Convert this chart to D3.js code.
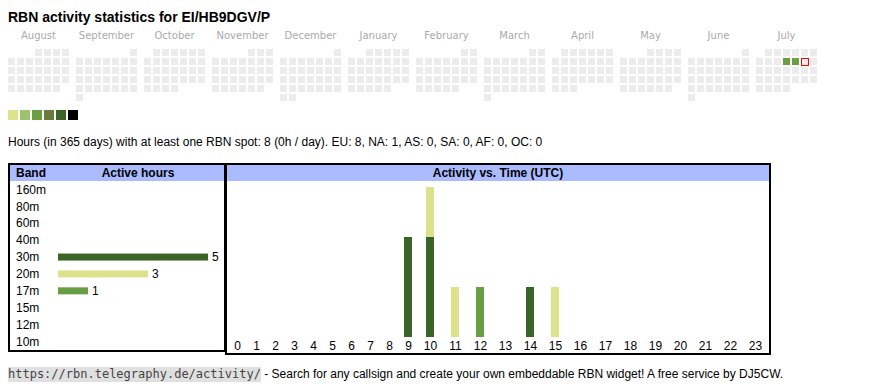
<!DOCTYPE html>
<html>
<head>
<meta charset="utf-8">
<script src="https://cdn.jsdelivr.net/npm/d3@7"></script>
<style>
  html, body { margin: 0; padding: 0; background: #fff; }
  svg { display: block; }
</style>
</head>
<body>
<svg id="chart" width="870" height="390"></svg>
<script>
// ---------------- DATA ----------------
const title = "RBN activity statistics for EI/HB9DGV/P";
const monthNames = ["August", "September", "October", "November", "December", "January",
                    "February", "March", "April", "May", "June", "July"];
const calendarStart = "2024-08-01";
const calendarEnd = "2025-08-01";
const activeDays = ["2025-07-10", "2025-07-11"];
const activeDayLevels = [2, 2];
const today = "2025-07-12";
const legendColors = ["#dbe38b", "#9fc36a", "#6a9e45", "#6a7b3b", "#3b6428", "#000000"];

const summaryText = "Hours (in 365 days) with at least one RBN spot: 8 (0h / day). EU: 8, NA: 1, AS: 0, SA: 0, AF: 0, OC: 0";

const bands = ["160m", "80m", "60m", "40m", "30m", "20m", "17m", "15m", "12m", "10m"];
const bandHours = [0, 0, 0, 0, 5, 3, 1, 0, 0, 0];
const bandColors = ["#7f3f98", "#2b4ea8", "#4aa3c8", "#c04040", "#3b6428", "#dbe28b", "#6a9e45", "#e0a030", "#a05a2c", "#d04080"];

const hours = d3.range(24);
// active hours per band at each UTC hour
const hourly30m = [0,0,0,0,0,0,0,0,0,2,2,0,0,0,1,0,0,0,0,0,0,0,0,0];
const hourly20m = [0,0,0,0,0,0,0,0,0,0,1,1,0,0,0,1,0,0,0,0,0,0,0,0];
const hourly17m = [0,0,0,0,0,0,0,0,0,0,0,0,1,0,0,0,0,0,0,0,0,0,0,0];

const footerLink = "https://rbn.telegraphy.de/activity/";
const footerText = " - Search for any callsign and create your own embeddable RBN widget! A free service by DJ5CW.";

// ---------------- DRAW ----------------
const svg = d3.select("#chart");
const sans = "'Liberation Sans', Arial, sans-serif";

svg.append("text")
  .attr("x", 8).attr("y", 22)
  .attr("font-family", sans).attr("font-weight", "bold").attr("font-size", 14)
  .attr("fill", "#000")
  .text(title);

// ---- calendar ----
const parse = d3.utcParse("%Y-%m-%d");
const days = d3.utcDays(parse(calendarStart), parse(calendarEnd));
const monthIndex = d => (d.getUTCFullYear() - 2024) * 12 + d.getUTCMonth() - 7;
const xMonth = d3.scaleLinear().domain([0, 1]).range([8, 76]);
const xCol = d3.scaleLinear().domain([0, 1]).range([0, 9]);
const yRow = d3.scaleLinear().domain([0, 1]).range([49, 58]);
const weekday = d => (d.getUTCDay() + 6) % 7;
const weekRow = d => {
  const first = d3.utcMonth.floor(d);
  return Math.floor((d.getUTCDate() - 1 + weekday(first)) / 7);
};
const activeMap = new Map(activeDays.map((s, i) => [s, activeDayLevels[i]]));
const fmt = d3.utcFormat("%Y-%m-%d");

svg.append("g").selectAll("text")
  .data(monthNames)
  .join("text")
  .attr("x", (m, i) => xMonth(i) + 30.5)
  .attr("y", 38.5)
  .attr("text-anchor", "middle")
  .attr("font-family", "'DejaVu Sans', Verdana, sans-serif")
  .attr("font-size", 10)
  .attr("fill", "#aaa")
  .text(m => m);

svg.append("g").selectAll("rect")
  .data(days)
  .join("rect")
  .attr("x", d => xMonth(monthIndex(d)) + xCol(weekday(d)) + (fmt(d) === today ? 0.5 : 0))
  .attr("y", d => yRow(weekRow(d)) + (fmt(d) === today ? 0.5 : 0))
  .attr("width", 7).attr("height", 7)
  .attr("fill", d => activeMap.has(fmt(d)) ? legendColors[activeMap.get(fmt(d))] : "#ececec")
  .attr("stroke", d => fmt(d) === today ? "#ff0000" : "none")
  .attr("stroke-width", 1);

// legend
const xLegend = d3.scaleLinear().domain([0, 1]).range([8, 20]);
svg.append("g").selectAll("rect")
  .data(legendColors)
  .join("rect")
  .attr("x", (c, i) => xLegend(i)).attr("y", 110)
  .attr("width", 10).attr("height", 10)
  .attr("fill", c => c);

svg.append("text")
  .attr("x", 8).attr("y", 146)
  .attr("font-family", sans).attr("font-size", 12)
  .attr("fill", "#000")
  .text(summaryText);

// ---- left table: bands ----
const left = svg.append("g");
left.append("rect").attr("x", 9).attr("y", 164).attr("width", 216).attr("height", 187)
  .attr("fill", "#fff").attr("stroke", "#000").attr("stroke-width", 2);
left.append("rect").attr("x", 10).attr("y", 165).attr("width", 214).attr("height", 16)
  .attr("fill", "#aabbff");
left.append("text").attr("x", 16).attr("y", 177).attr("font-family", sans)
  .attr("font-weight", "bold").attr("font-size", 12).text("Band");
left.append("text").attr("x", 138).attr("y", 177).attr("text-anchor", "middle").attr("font-family", sans)
  .attr("font-weight", "bold").attr("font-size", 12).text("Active hours");

const yBand = d3.scaleBand().domain(bands).range([181, 350]);
const xHours = d3.scaleLinear().domain([0, 5]).range([58, 208]);

left.append("g").selectAll("text")
  .data(bands)
  .join("text")
  .attr("x", 16)
  .attr("y", b => yBand(b) + yBand.bandwidth() / 2)
  .attr("dy", "0.35em")
  .attr("font-family", sans).attr("font-size", 12)
  .text(b => b);

const bandRows = bands.map((b, i) => ({ band: b, hours: bandHours[i], color: bandColors[i] }))
  .filter(d => d.hours > 0);

left.append("g").selectAll("rect")
  .data(bandRows)
  .join("rect")
  .attr("x", xHours(0))
  .attr("y", d => yBand(d.band) + yBand.bandwidth() / 2 - 3.5)
  .attr("width", d => xHours(d.hours) - xHours(0))
  .attr("height", 7)
  .attr("fill", d => d.color);

left.append("g").selectAll("text")
  .data(bandRows)
  .join("text")
  .attr("x", d => xHours(d.hours) + 4)
  .attr("y", d => yBand(d.band) + yBand.bandwidth() / 2)
  .attr("dy", "0.35em")
  .attr("font-family", sans).attr("font-size", 12)
  .text(d => d.hours);

// ---- right table: activity vs time ----
const right = svg.append("g");
right.append("rect").attr("x", 226).attr("y", 164).attr("width", 544).attr("height", 190)
  .attr("fill", "#fff").attr("stroke", "#000").attr("stroke-width", 2);
right.append("rect").attr("x", 227).attr("y", 165).attr("width", 542).attr("height", 16)
  .attr("fill", "#aabbff");
right.append("text").attr("x", 498).attr("y", 177).attr("text-anchor", "middle").attr("font-family", sans)
  .attr("font-weight", "bold").attr("font-size", 12).text("Activity vs. Time (UTC)");

// table-like columns: width depends on the label's digit count
const colW = h => String(h).length === 1 ? 19 : 25;
const lefts = [];
hours.reduce((acc, h) => { lefts.push(acc); return acc + colW(h); }, 228);
const xHour = d3.scaleOrdinal().domain(hours).range(lefts);
const xHourCenter = h => xHour(h) + colW(h) / 2;

const yAct = d3.scaleLinear().domain([0, 3]).range([337, 187]);

const stackRows = hours.map((h, i) => {
  const row = { hour: h };
  bands.forEach(b => row[b] = 0);
  row["30m"] = hourly30m[i];
  row["20m"] = hourly20m[i];
  row["17m"] = hourly17m[i];
  return row;
});
const stacked = d3.stack().keys(bands)(stackRows);

right.append("g").selectAll("g")
  .data(stacked)
  .join("g")
  .attr("fill", s => bandColors[bands.indexOf(s.key)])
  .selectAll("rect")
  .data(s => s.filter(p => p[1] > p[0]))
  .join("rect")
  .attr("x", p => xHourCenter(p.data.hour) - 4.5)
  .attr("width", 8)
  .attr("y", p => yAct(p[1]))
  .attr("height", p => yAct(p[0]) - yAct(p[1]));

right.append("g").selectAll("text")
  .data(hours)
  .join("text")
  .attr("x", h => xHourCenter(h))
  .attr("y", 346)
  .attr("dy", "0.35em")
  .attr("text-anchor", "middle")
  .attr("font-family", sans).attr("font-size", 12)
  .text(h => h);

// ---- footer ----
const footer = svg.append("g");
const codeBg = footer.append("rect");
const codeText = footer.append("text")
  .attr("x", 8).attr("y", 378)
  .attr("font-family", "'DejaVu Sans Mono', 'Liberation Mono', monospace")
  .attr("font-size", 12)
  .attr("fill", "#444")
  .text(footerLink);
const cw = codeText.node().getComputedTextLength();
codeBg.attr("x", 8).attr("y", 367).attr("width", cw).attr("height", 15)
  .attr("fill", "#e0e0e0");
footer.append("text")
  .attr("x", 8 + cw).attr("y", 378)
  .attr("font-family", sans).attr("font-size", 12)
  .attr("fill", "#000")
  .attr("xml:space", "preserve")
  .style("white-space", "pre")
  .text(footerText);
</script>
</body>
</html>
